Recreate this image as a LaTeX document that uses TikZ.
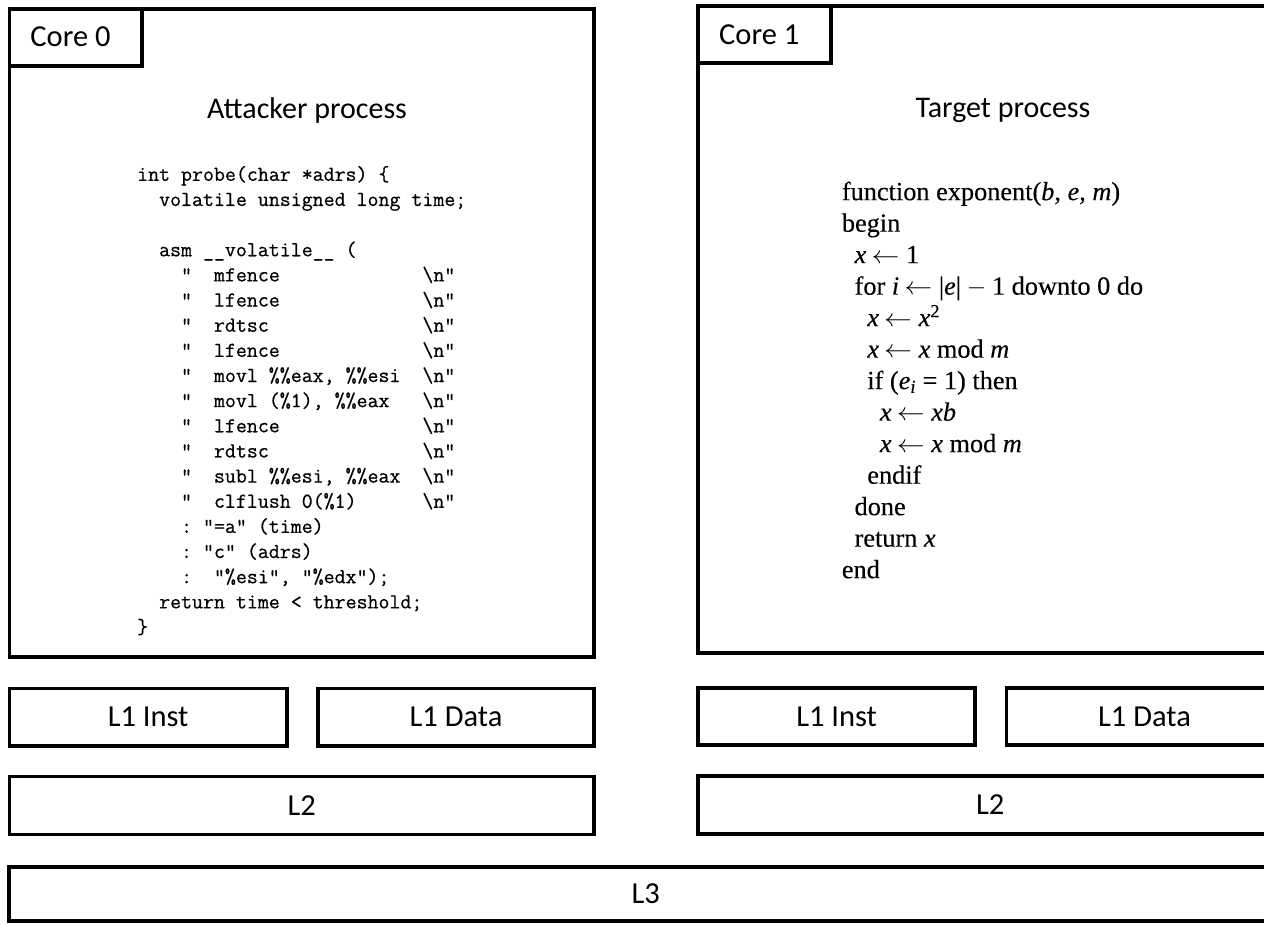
\documentclass[tikz,border=0pt]{standalone}
\usepackage{fontspec}
\usepackage{graphicx}
\newfontfamily\calibri{Carlito}
\newfontfamily\tnr[FakeBold=0.25]{Liberation Serif}
\newfontfamily\codefont[FakeBold=0.6]{Latin Modern Mono}
\newcommand\lar{\hspace{0.2em}\scalebox{1.12}[1]{$\leftarrow$}\hspace{0.25em}}
\begin{document}
\begin{tikzpicture}[x=1pt,y=-1pt,
  box/.style={draw=black, line width=3.6pt, rectangle, inner sep=0pt, font=\calibri\fontsize{30.5}{35}\selectfont},
  title/.style={inner sep=0pt, font=\calibri\fontsize{30}{35}\selectfont},
  code/.style={inner sep=0pt, align=left, font=\codefont\fontsize{21.3}{25.15}\selectfont},
  algo/.style={inner sep=0pt, align=left, font=\tnr\fontsize{26.3}{31.5}\selectfont}]
\path[use as bounding box] (0,0) rectangle (1264,924);
\clip (0,0) rectangle (1264,924);
% core 0
\node[box, minimum width=584.5pt, minimum height=648pt] (core0) at (301.75,332.7) {};
\node[box, minimum width=132.5pt, minimum height=57pt] (lab0) at (75.75,37.2) {Core 0\kern10.5pt};
\node[title] (att) at (307,110) {Attacker process};
\node[code, anchor=north west] (probe) at (137,160.6) {\rule{0pt}{20pt}int probe(char *adrs) \{\\
~~volatile unsigned long time;\\
~\\
~~asm \_\_volatile\_\_ (\\
~~~~"~~mfence~~~~~~~~~~~~~\textbackslash n"\\
~~~~"~~lfence~~~~~~~~~~~~~\textbackslash n"\\
~~~~"~~rdtsc~~~~~~~~~~~~~~\textbackslash n"\\
~~~~"~~lfence~~~~~~~~~~~~~\textbackslash n"\\
~~~~"~~movl~\%\%eax,~\%\%esi~~\textbackslash n"\\
~~~~"~~movl~(\%1),~\%\%eax~~~\textbackslash n"\\
~~~~"~~lfence~~~~~~~~~~~~~\textbackslash n"\\
~~~~"~~rdtsc~~~~~~~~~~~~~~\textbackslash n"\\
~~~~"~~subl~\%\%esi,~\%\%eax~~\textbackslash n"\\
~~~~"~~clflush~0(\%1)~~~~~~\textbackslash n"\\
~~~~:~"=a"~(time)\\
~~~~:~"c"~(adrs)\\
~~~~:~~"\%esi",~"\%edx");\\
~~return~time~<~threshold;\\
\}};
% core 1
\node[box, minimum width=584.5pt, minimum height=647pt] (core1) at (990.25,329.5) {};
\node[box, minimum width=133pt, minimum height=57pt] (lab1) at (764.5,34.5) {Core 1\kern10.5pt};
\node[title] (tgt) at (1003,110) {Target process};
\node[algo, anchor=north west] (expo) at (841.7,178) {\rule{0pt}{22pt}function exponent(\textit{b}, \textit{e}, \textit{m})\\
begin\\
\hspace*{12.7pt}\textit{x}\lar 1\\
\hspace*{12.7pt}for \textit{i}\lar|\textit{e}|\hspace{0.22em}$-$\hspace{0.22em}1 downto 0 do\\
\hspace*{25.4pt}\textit{x}\lar\textit{x}\textsuperscript{2}\\
\hspace*{25.4pt}\textit{x}\lar\textit{x} mod \textit{m}\\
\hspace*{25.4pt}if (\textit{e}\textsubscript{\textit{i}}\hspace{0.25em}=\hspace{0.25em}1) then\\
\hspace*{38pt}\textit{x}\lar\textit{xb}\\
\hspace*{38pt}\textit{x}\lar\textit{x} mod \textit{m}\\
\hspace*{25.4pt}endif\\
\hspace*{12.7pt}done\\
\hspace*{12.7pt}return \textit{x}\\
end};
% caches
\node[box, minimum width=277.2pt, minimum height=57.2pt] (l1i0) at (148.1,717.1) {L1 Inst};
\node[box, minimum width=276pt, minimum height=57.2pt] (l1d0) at (456,717.1) {L1 Data};
\node[box, minimum width=584.5pt, minimum height=57.8pt] (l20) at (301.75,805.4) {L2};
\node[box, minimum width=277.2pt, minimum height=57.2pt] (l1i1) at (836.6,716.6) {L1 Inst};
\node[box, minimum width=276pt, minimum height=57.2pt] (l1d1) at (1144.5,716.6) {L1 Data};
\node[box, minimum width=584.5pt, minimum height=57.8pt] (l21) at (990.25,805) {L2};
\node[box, minimum width=1273.5pt, minimum height=54pt] (l3) at (645.75,894) {L3};
\end{tikzpicture}
\end{document}
